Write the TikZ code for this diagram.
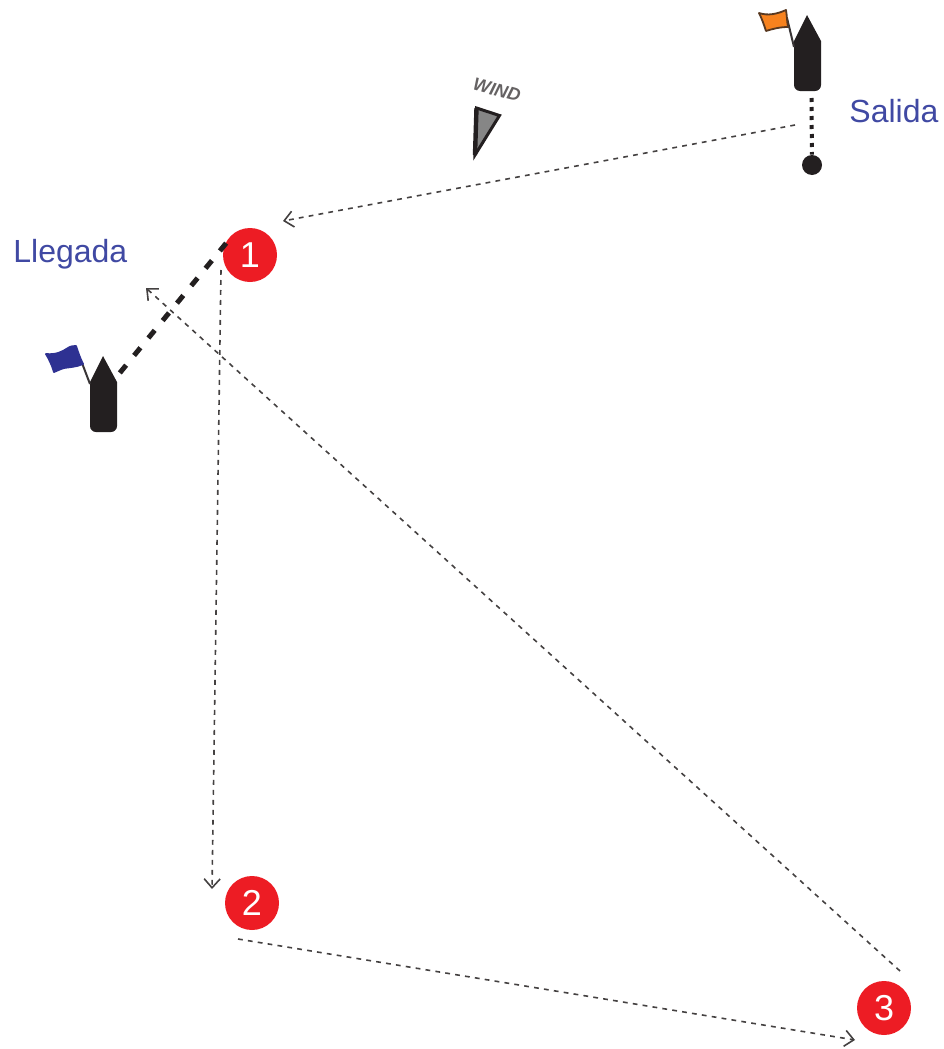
\documentclass[tikz,border=0pt]{standalone}
\usepackage{fontspec}
\setmainfont{Liberation Sans}
\usetikzlibrary{arrows.meta}
\definecolor{lblue}{HTML}{4049A3}
\definecolor{flagblue}{HTML}{2E3192}
\definecolor{flagorange}{HTML}{F7821E}
\definecolor{hull}{HTML}{231F20}
\definecolor{markred}{HTML}{ED1C24}
\tikzset{
  x=0.5pt,y=-0.5pt,
  redmark/.style={circle,fill=markred,draw=none,minimum size=27pt,inner sep=0pt,text=white,font=\fontsize{18pt}{18pt}\selectfont},
  place/.style={text=lblue,font=\fontsize{16pt}{16pt}\selectfont,inner sep=0pt,anchor=base west},
  course/.style={dash pattern=on 2.4pt off 2.6pt,line width=0.8pt,color=hull!85,-{Straight Barb[length=4.5pt,width=8pt,line width=0.8pt]}},
  hullshape/.style={fill=hull,draw=none},
  pole/.style={draw=hull!90,line width=1pt},
  flagshape/.style={line width=0.9pt,line join=round},
}
\begin{document}
\begin{tikzpicture}
\useasboundingbox (0,0) rectangle (943,1049);
% start boat
\fill[hullshape,rounded corners=0pt] (807,15) -- (821,41) -- (821,82) [rounded corners=3pt] -- (821,91) -- (794,91) [rounded corners=0pt] -- (794,41) -- cycle;
\draw[pole] (787,18) -- (794,47);
\filldraw[flagshape,draw=hull!75!flagorange,fill=flagorange] (759,13) .. controls (768,16) and (777,14) .. (786,10) .. controls (787,16) and (787,22) .. (788,27) .. controls (780,27) and (772,29) .. (766,31) .. controls (764,25) and (762,19) .. (759,13) -- cycle;
% finish boat
\fill[hullshape] (103,356) -- (117,382) -- (117,423) [rounded corners=3pt] -- (117,432) -- (90,432) [rounded corners=0pt] -- (90,382) -- cycle;
\draw[pole] (82,363) -- (90,384);
\filldraw[flagshape,draw=flagblue,fill=flagblue] (46,354) .. controls (56,355) and (62,352) .. (68,348) .. controls (71,346) and (74,346) .. (76,346) .. controls (78,352) and (80,358) .. (83,364) .. controls (76,367) and (70,367) .. (64,368) .. controls (60,369) and (57,371) .. (54,372) .. controls (52,365) and (49,359) .. (46,354) -- cycle;
% marks
\node[redmark] (m1) at (250,255) {1};
\node[redmark] (m2) at (252,903) {2};
\node[redmark] (m3) at (884,1008) {3};
% start buoy
\node[circle,fill=hull,minimum size=10pt,inner sep=0pt] (buoy) at (812,165) {};
\coordinate (stern) at (811.5,98);
\draw[line width=2pt,hull,dash pattern=on 2pt off 2.5pt] (stern) -- (buoy);
% finish line
\coordinate (finbow) at (119.8,372.9);
\coordinate (fin1) at (226.2,243.1);
\draw[line width=2.5pt,hull,dash pattern=on 5pt off 6.27pt] (finbow) -- (fin1);
% course legs
\coordinate (a0) at (795,125);
\coordinate (a1) at (283,221);
\coordinate (b0) at (221,270);
\coordinate (b1) at (212,889);
\coordinate (c0) at (238,939);
\coordinate (c1) at (855,1040);
\coordinate (d0) at (900,971);
\coordinate (d1) at (146,288);
\draw[course] (a0) -- (a1);
\draw[course] (b0) -- (b1);
\draw[course] (c0) -- (c1);
\draw[course] (d0) -- (d1);
% wind
\filldraw[fill=gray!95,draw=hull,line width=1.5pt,line join=miter] (476.5,108) -- (499.5,115.5) -- (475,155) -- cycle;
\draw[hull,line width=2.2pt] (476.5,108) -- (475,155);
\node[rotate=-15,font=\fontsize{9pt}{9pt}\selectfont\bfseries\itshape,text=hull!70,inner sep=0pt] (wind) at (497,90) {WIND};
% labels
\node[place] (salida) at (849,122) {Salida};
\node[place] (llegada) at (13,262) {Llegada};
\end{tikzpicture}
\end{document}
